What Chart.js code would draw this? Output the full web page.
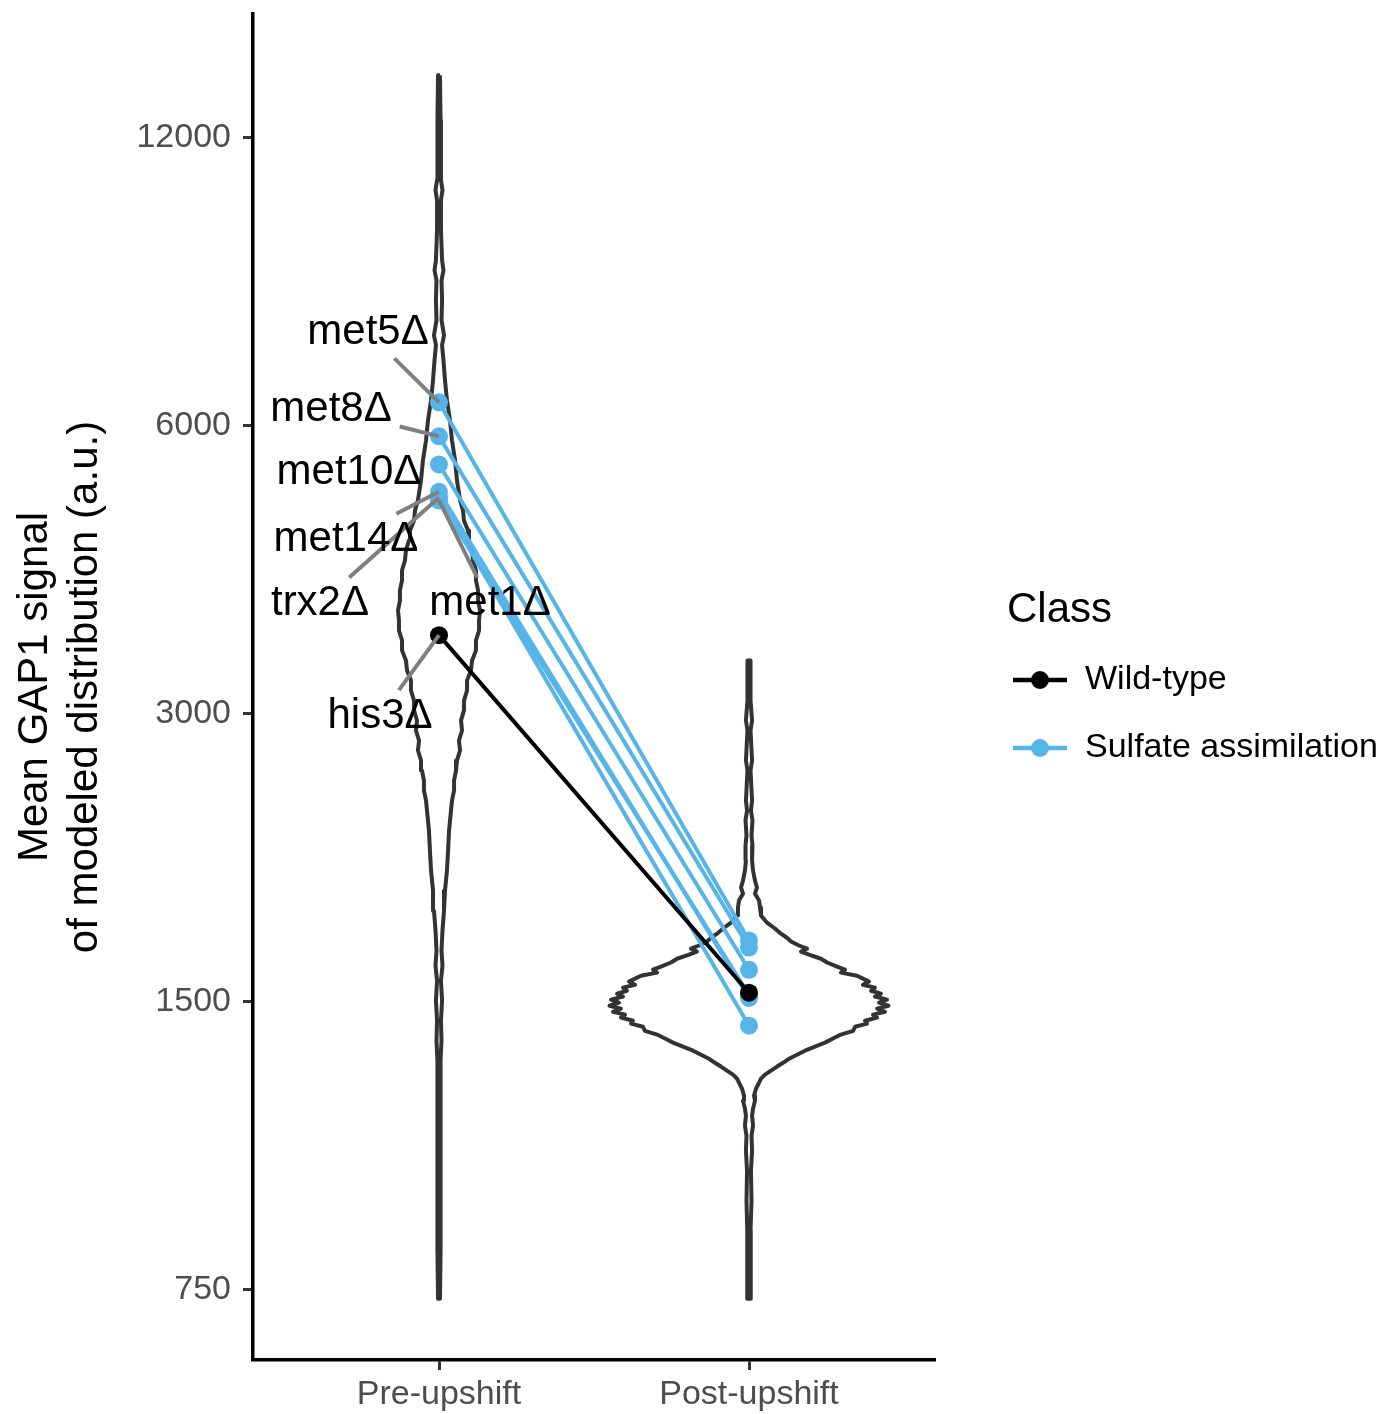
<!DOCTYPE html>
<html>
<head>
<meta charset="utf-8">
<script src="https://cdn.jsdelivr.net/npm/chart.js@4.4.1/dist/chart.umd.min.js"></script>
<style>
  html, body { margin: 0; padding: 0; background: #ffffff; }
  #wrap { width: 1389px; height: 1414px; }
</style>
</head>
<body>
<div id="wrap"><canvas id="c" width="1389" height="1414"></canvas></div>
<script>
// ---- data ----
const categories = ['Pre-upshift', 'Post-upshift'];
const yTicks = [750, 1500, 3000, 6000, 12000];

const classNames = ['Wild-type', 'Sulfate assimilation'];
const strains = ['his3Δ', 'met5Δ', 'met8Δ', 'met10Δ', 'met14Δ', 'trx2Δ', 'met1Δ'];
const strainClass = ['Wild-type', 'Sulfate assimilation', 'Sulfate assimilation', 'Sulfate assimilation',
                     'Sulfate assimilation', 'Sulfate assimilation', 'Sulfate assimilation'];
const preSignal = [3623, 6342, 5844, 5462, 5114, 5045, 5009];
const postSignal = [1533, 1738, 1709, 1620, 1514, 1416, 1525];

// violin density grids: log2(signal) levels and scaled density (max = 1)
const preViolinLog2 = [13.766, 13.610, 13.402, 13.367, 13.332, 13.228, 13.124, 13.089, 13.054, 12.985,
  12.916, 12.863, 12.829, 12.777, 12.707, 12.638, 12.568, 12.499, 12.430, 12.360,
  12.291, 12.256, 12.221, 12.186, 12.152, 12.117, 12.082, 12.048, 12.013, 11.978,
  11.943, 11.909, 11.874, 11.839, 11.805, 11.770, 11.735, 11.700, 11.666, 11.631,
  11.596, 11.562, 11.527, 11.492, 11.457, 11.423, 11.388, 11.353, 11.319, 11.284,
  11.249, 11.214, 11.145, 11.075, 11.006, 10.937, 10.867, 10.798, 10.728, 10.676,
  10.624, 10.555, 10.485, 10.416, 10.346, 10.207, 10.034, 9.860, 9.687, 9.520];
const preViolinDensity = [0.007, 0.011, 0.014, 0.025, 0.014, 0.014, 0.022, 0.032, 0.018, 0.022,
  0.018, 0.036, 0.022, 0.032, 0.043, 0.057, 0.079, 0.093, 0.115, 0.129,
  0.151, 0.172, 0.179, 0.208, 0.215, 0.237, 0.244, 0.265, 0.265, 0.280,
  0.280, 0.294, 0.287, 0.287, 0.265, 0.265, 0.237, 0.229, 0.201, 0.201,
  0.179, 0.179, 0.158, 0.165, 0.143, 0.151, 0.129, 0.122, 0.108, 0.108,
  0.093, 0.086, 0.072, 0.065, 0.057, 0.043, 0.036, 0.025, 0.018, 0.025,
  0.014, 0.022, 0.014, 0.018, 0.011, 0.011, 0.013, 0.010, 0.011, 0.007];

const postViolinLog2 = [11.735, 11.596, 11.527, 11.492, 11.388, 11.353, 11.249, 11.214, 11.180, 11.128,
  11.093, 11.041, 11.006, 10.971, 10.947, 10.926, 10.902, 10.878, 10.850, 10.825,
  10.805, 10.787, 10.773, 10.760, 10.746, 10.735, 10.725, 10.714, 10.700, 10.687,
  10.673, 10.662, 10.652, 10.641, 10.631, 10.621, 10.610, 10.600, 10.589, 10.579,
  10.569, 10.558, 10.548, 10.537, 10.527, 10.516, 10.506, 10.496, 10.485, 10.475,
  10.464, 10.450, 10.437, 10.423, 10.409, 10.395, 10.381, 10.367, 10.353, 10.339,
  10.326, 10.312, 10.298, 10.284, 10.270, 10.249, 10.225, 10.207, 10.180, 10.155,
  10.121, 10.086, 10.034, 9.964, 9.860, 9.756, 9.652, 9.520];
const postViolinDensity = [0.011, 0.011, 0.022, 0.011, 0.022, 0.011, 0.022, 0.014, 0.025, 0.018,
  0.025, 0.022, 0.029, 0.043, 0.057, 0.043, 0.072, 0.079, 0.086, 0.129,
  0.186, 0.229, 0.272, 0.301, 0.358, 0.416, 0.373, 0.430, 0.516, 0.559,
  0.631, 0.688, 0.659, 0.774, 0.817, 0.860, 0.817, 0.903, 0.875, 0.946,
  0.903, 0.989, 0.932, 1.000, 0.918, 0.975, 0.889, 0.918, 0.832, 0.846,
  0.760, 0.746, 0.659, 0.602, 0.545, 0.473, 0.401, 0.344, 0.287, 0.244,
  0.201, 0.158, 0.115, 0.086, 0.072, 0.050, 0.036, 0.043, 0.029, 0.022,
  0.029, 0.018, 0.022, 0.014, 0.018, 0.011, 0.014, 0.011];

// ---- styling ----
const FONT = "'Liberation Sans', Arial, Helvetica, sans-serif";
const classColors = { 'Wild-type': '#000000', 'Sulfate assimilation': '#56B4E9' };
const VIOLIN_HALF_WIDTH = 0.45;           // half of the 0.9 dodge width, in category units
// repelled label placement, pixel offset of the text centre from its point
const labelOffsets = {
  'his3Δ': [-59, 81], 'met5Δ': [-71, -70], 'met8Δ': [-108, -27], 'met10Δ': [-90, 8],
  'met14Δ': [-93, 48], 'trx2Δ': [-119, 106], 'met1Δ': [51, 103]
};

Chart.defaults.font.family = FONT;

// ---- derived: y limits with 5% expansion in log space ----
const allLog2 = preViolinLog2.concat(postViolinLog2);
const lo = Math.min(...allLog2), hi = Math.max(...allLog2);
const pad = (hi - lo) * 0.05;
const yMin = Math.pow(2, lo - pad), yMax = Math.pow(2, hi + pad);

function violinOutline(cat, levels, dens) {
  const right = levels.map((l, i) => ({ x: cat + dens[i] * VIOLIN_HALF_WIDTH, y: Math.pow(2, l) }));
  const left = levels.map((l, i) => ({ x: cat - dens[i] * VIOLIN_HALF_WIDTH, y: Math.pow(2, l) })).reverse();
  return right.concat(left, [right[0]]);
}

const violinStyle = {
  showLine: true, pointRadius: 0, pointHoverRadius: 0, borderColor: '#333333',
  borderWidth: 4, tension: 0, fill: false, order: 3, borderJoinStyle: 'round'
};

const datasets = [
  Object.assign({ label: 'violin-pre', data: violinOutline(0, preViolinLog2, preViolinDensity) }, violinStyle),
  Object.assign({ label: 'violin-post', data: violinOutline(1, postViolinLog2, postViolinDensity) }, violinStyle)
];
strains.forEach((s, i) => {
  const col = classColors[strainClass[i]];
  datasets.push({
    label: s,
    data: [{ x: 0, y: preSignal[i] }, { x: 1, y: postSignal[i] }],
    showLine: true, borderColor: col, backgroundColor: col, borderWidth: 4,
    pointRadius: 9, pointBorderWidth: 0, pointHoverRadius: 9, tension: 0,
    order: strainClass[i] === 'Wild-type' ? 1 : 2
  });
});

// text labels with leader segments, and the class legend
const annotate = {
  id: 'annotate',
  afterDatasetsDraw(chart) {
    const { ctx, scales: { x, y } } = chart;
    ctx.save();
    ctx.font = `42px ${FONT}`;
    const items = strains.map((name, i) => {
      const px = x.getPixelForValue(0), py = y.getPixelForValue(preSignal[i]);
      const off = labelOffsets[name];
      return { name, px, py, cx: px + off[0], cy: py + off[1], w: ctx.measureText(name).width };
    });
    // leader segments
    ctx.strokeStyle = '#7F7F7F';
    ctx.lineWidth = 4;
    items.forEach(it => {
      const dx = it.px - it.cx, dy = it.py - it.cy;
      const hw = it.w / 2 + 8, hh = 26;
      const t = Math.min(dx ? Math.abs(hw / dx) : Infinity, dy ? Math.abs(hh / dy) : Infinity);
      if (t >= 1) return;
      const sx = it.cx + dx * t, sy = it.cy + dy * t;
      if (Math.hypot(it.px - sx, it.py - sy) < 18) return;
      ctx.beginPath();
      ctx.moveTo(sx, sy);
      ctx.lineTo(it.px, it.py);
      ctx.stroke();
    });
    // label text
    ctx.fillStyle = '#000000';
    ctx.textAlign = 'center';
    ctx.textBaseline = 'middle';
    items.forEach(it => ctx.fillText(it.name, it.cx, it.cy));
    ctx.restore();
  },
  afterDraw(chart) {
    const { ctx, chartArea } = chart;
    const lx = chartArea.right + 72;
    const mid = (chartArea.top + chartArea.bottom) / 2;
    ctx.save();
    ctx.fillStyle = '#000000';
    ctx.textAlign = 'left';
    ctx.textBaseline = 'middle';
    ctx.font = `42px ${FONT}`;
    ctx.fillText('Class', lx, mid - 77);
    ctx.font = `34px ${FONT}`;
    classNames.forEach((c, k) => {
      const yy = mid - 7 + k * 68;
      const col = classColors[c];
      ctx.strokeStyle = col;
      ctx.lineWidth = 4.5;
      ctx.beginPath();
      ctx.moveTo(lx + 6, yy);
      ctx.lineTo(lx + 60, yy);
      ctx.stroke();
      ctx.fillStyle = col;
      ctx.beginPath();
      ctx.arc(lx + 33, yy, 9, 0, Math.PI * 2);
      ctx.fill();
      ctx.fillStyle = '#000000';
      ctx.fillText(c, lx + 78, yy);
    });
    ctx.restore();
  }
};

new Chart(document.getElementById('c'), {
  type: 'scatter',
  data: { datasets },
  options: {
    responsive: false,
    animation: false,
    devicePixelRatio: 1,
    events: [],
    layout: { padding: { left: 0, right: 454, top: 14, bottom: 0 } },
    plugins: { legend: { display: false }, tooltip: { enabled: false } },
    scales: {
      x: {
        type: 'linear', min: -0.6, max: 1.6,
        afterBuildTicks: s => { s.ticks = categories.map((_, i) => ({ value: i })); },
        afterFit: s => { s.height = 54; s.paddingLeft = 0; s.paddingRight = 0; },
        ticks: {
          callback: v => categories[v] ?? '', color: '#4D4D4D',
          font: { size: 34 }, padding: 4, maxRotation: 0, autoSkip: false
        },
        grid: { display: true, drawOnChartArea: false, drawTicks: true, tickLength: 10,
                tickColor: '#333333', tickWidth: 3 },
        border: { display: true, color: '#000000', width: 3.5 }
      },
      y: {
        type: 'logarithmic', min: yMin, max: yMax,
        afterBuildTicks: s => { s.ticks = yTicks.map(v => ({ value: v })); },
        afterFit: s => { s.width = 253; s.paddingTop = 0; s.paddingBottom = 0; },
        ticks: { callback: v => String(v), color: '#4D4D4D', font: { size: 34 }, padding: 12, autoSkip: false },
        grid: { display: true, drawOnChartArea: false, drawTicks: true, tickLength: 10,
                tickColor: '#333333', tickWidth: 3 },
        border: { display: true, color: '#000000', width: 3.5 },
        title: {
          display: true, text: ['Mean GAP1 signal', 'of modeled distribution (a.u.)'],
          color: '#000000', font: { size: 42, lineHeight: 1.2 }, padding: { top: 10, bottom: 0 }
        }
      }
    }
  },
  plugins: [annotate]
});
</script>
</body>
</html>
